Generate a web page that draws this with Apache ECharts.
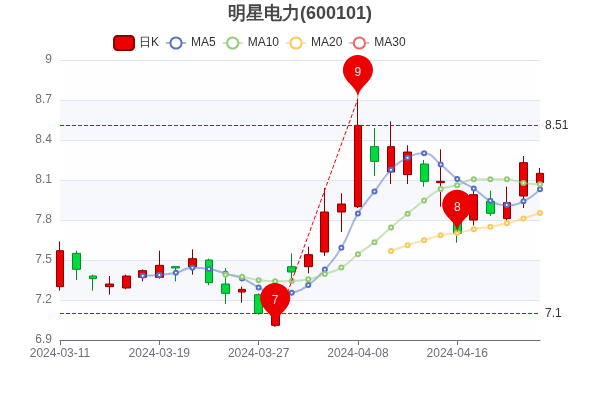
<!DOCTYPE html>
<html>
<head>
<meta charset="utf-8">
<script src="https://cdn.jsdelivr.net/npm/echarts@6/dist/echarts.min.js"></script>
<style>html,body{margin:0;padding:0;background:#fff;}#main{width:600px;height:400px;}</style>
</head>
<body>
<div id="main"></div>
<script>
const dates = ['2024-03-11','2024-03-12','2024-03-13','2024-03-14','2024-03-15','2024-03-18','2024-03-19','2024-03-20','2024-03-21','2024-03-22','2024-03-25','2024-03-26','2024-03-27','2024-03-28','2024-03-29','2024-04-01','2024-04-02','2024-04-03','2024-04-08','2024-04-09','2024-04-10','2024-04-11','2024-04-12','2024-04-15','2024-04-16','2024-04-17','2024-04-18','2024-04-19','2024-04-22','2024-04-23'];
const openVals  = [7.30,7.55,7.38,7.30,7.29,7.37,7.37,7.45,7.45,7.50,7.32,7.26,7.24,7.01,7.45,7.45,7.56,7.86,7.90,8.35,8.16,8.14,8.22,8.08,7.80,7.80,7.94,7.81,7.98,8.08];
const closeVals = [7.57,7.43,7.36,7.32,7.38,7.42,7.46,7.44,7.51,7.33,7.25,7.28,7.10,7.23,7.41,7.54,7.86,7.92,8.51,8.24,8.35,8.31,8.09,8.09,7.70,7.99,7.85,7.93,8.23,8.15];
const lowVals   = [7.27,7.35,7.27,7.24,7.28,7.34,7.36,7.34,7.39,7.31,7.17,7.18,7.09,7.00,7.33,7.40,7.53,7.71,7.89,8.13,8.07,8.07,8.05,7.90,7.63,7.76,7.83,7.79,7.89,8.05];
const highVals  = [7.64,7.57,7.39,7.38,7.39,7.43,7.57,7.45,7.58,7.51,7.44,7.30,7.25,7.25,7.55,7.60,8.04,8.00,8.71,8.49,8.54,8.36,8.25,8.33,7.86,8.02,8.02,8.05,8.28,8.19];
const ma5  = ['-','-','-','-','-',7.382,7.388,7.404,7.442,7.432,7.398,7.362,7.294,7.238,7.254,7.312,7.428,7.592,7.848,8.014,8.176,8.266,8.300,8.216,8.108,8.036,7.944,7.912,7.940,8.030];
const ma10 = ['-','-','-','-','-','-','-','-','-','-',7.390,7.375,7.349,7.340,7.343,7.355,7.395,7.443,7.543,7.634,7.744,7.847,7.946,8.032,8.061,8.106,8.105,8.106,8.078,8.069];
const ma20 = ['-','-','-','-','-','-','-','-','-','-','-','-','-','-','-','-','-','-','-','-',7.567,7.611,7.648,7.686,7.702,7.731,7.750,7.775,7.811,7.852];
const ma30 = ['-','-','-','-','-','-','-','-','-','-','-','-','-','-','-','-','-','-','-','-','-','-','-','-','-','-','-','-','-','-'];
const yTicks = {min: 6.9, max: 9, interval: 0.3};

const kData = dates.map((d, i) => [openVals[i], closeVals[i], lowVals[i], highVals[i]]);

const upColor = '#ec0000', upBorderColor = '#8A0000', downColor = '#00da3c', downBorderColor = '#008F28';

function maSeries(name, data, color) {
  return { name: name, type: 'line', data: data, smooth: true, color: color,
    symbol: 'emptyCircle', symbolSize: 4,
    itemStyle: { color: color }, lineStyle: { opacity: 0.5, width: 2, color: color } };
}

const chart = echarts.init(document.getElementById('main'), null, {renderer: 'canvas'});
chart.setOption({
  animation: false,
  color: ['#5470c6', '#91cc75', '#fac858', '#ee6666', '#73c0de'],
  title: { text: '明星电力(600101)', left: 'center', top: 0, padding: 5,
    textStyle: { fontSize: 18, fontWeight: 'bold', color: '#464646' } },
  legend: { top: 30, left: 108, itemGap: 6, itemWidth: 20, itemHeight: 14,
    textStyle: { fontSize: 12, color: '#333' },
    data: ['日K', 'MA5', 'MA10', 'MA20', 'MA30'] },
  grid: { left: 60, right: 60, top: 60, bottom: 60 },
  xAxis: {
    type: 'category', data: dates, boundaryGap: false,
    axisLine: { onZero: false, lineStyle: { color: '#6e7079' } },
    axisLabel: { interval: 5, color: '#6e7079' },
    axisTick: { interval: 5 },
    splitLine: { show: false }
  },
  yAxis: {
    scale: true, min: yTicks.min, max: yTicks.max, interval: yTicks.interval,
    axisLabel: { color: '#6e7079' },
    splitLine: { lineStyle: { color: '#e0e6f1' } },
    splitArea: { show: true, areaStyle: { color: ['rgba(250,250,250,0.2)', 'rgba(210,219,238,0.2)'] } }
  },
  series: [
    {
      name: '日K', type: 'candlestick', data: kData,
      itemStyle: { color: upColor, color0: downColor, borderColor: upBorderColor, borderColor0: downBorderColor },
      markPoint: {
        label: { formatter: function (p) { return p != null ? Math.round(p.value) + '' : ''; } },
        data: [
          { name: 'highest value', type: 'max', valueDim: 'highest' },
          { name: 'lowest value', type: 'min', valueDim: 'lowest' },
          { name: 'average value on close', type: 'average', valueDim: 'close' }
        ]
      },
      markLine: {
        symbol: ['none', 'none'],
        label: { color: '#333' },
        data: [
          [
            { name: 'from lowest to highest', type: 'min', valueDim: 'lowest', symbol: 'none', label: { show: false } },
            { type: 'max', valueDim: 'highest', symbol: 'none', label: { show: false } }
          ],
          { name: 'min line on close', type: 'min', valueDim: 'close' },
          { name: 'max line on close', type: 'max', valueDim: 'close' }
        ]
      }
    },
    maSeries('MA5', ma5, '#5470c6'),
    maSeries('MA10', ma10, '#91cc75'),
    maSeries('MA20', ma20, '#fac858'),
    maSeries('MA30', ma30, '#ee6666')
  ]
});
</script>
</body>
</html>
